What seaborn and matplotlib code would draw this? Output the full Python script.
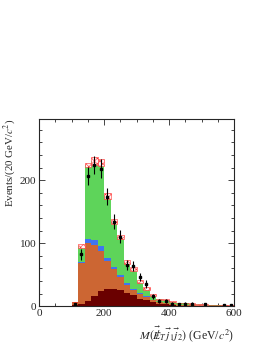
import numpy as np
import pandas as pd
import matplotlib
matplotlib.use("Agg")
import matplotlib.pyplot as plt
from matplotlib.ticker import MultipleLocator
import seaborn as sns

# -------------------------------
# Data (20 GeV bins, 0-600)
# -------------------------------

bin_lo = np.arange(0, 600, 20)

maroon = [0.8, 0.8, 0.8, 0.8, 0.8, 1.5, 3, 8, 16, 24, 28, 28, 25, 21, 17,
          12, 10, 7, 4, 3, 2, 1, 1, 0.8, 0.6, 0.5, 0.4, 0.3, 0.3, 0.3]
orange = [0, 0, 0, 0, 0, 4.5, 65, 92, 81, 64, 44, 31, 21, 13, 9,
          8, 5, 3, 3, 2, 1, 1, 1, 0.7, 0.6, 0.5, 0.4, 0.3, 0.3, 0.2]
blue = [0, 0, 0, 0, 0, 0, 2, 7, 8, 7, 5, 3, 3, 3, 2,
        1, 1, 0.5, 0, 0, 0, 0, 0, 0, 0, 0, 0, 0, 0, 0]
total = [0.8, 0.8, 0.8, 0.8, 0.8, 6.5, 96, 224, 230, 228, 175, 134, 110, 70, 59,
         39, 28, 18, 11, 10, 7, 5, 5, 4, 3, 2.5, 2, 1.5, 1.2, 1]
band_err = [0, 0, 0, 0, 0, 0.5, 3, 3, 6, 5.5, 5, 4, 3.5, 3, 2.5,
            2, 2, 1.5, 1, 1, 0.8, 0.6, 0.6, 0.5, 0.4, 0.3, 0.3, 0.2, 0.2, 0.2]

data_x = [110, 130, 150, 170, 190, 210, 230, 250, 270, 290, 310, 330,
          350, 370, 390, 410, 430, 450, 470, 510, 570, 590]
data_y = [3, 82, 207, 224, 218, 174, 134, 110, 65, 63, 46, 35,
          16, 8, 8, 4, 3, 4, 4, 3, 2, 2]

green = [t - m - o - b for t, m, o, b in zip(total, maroon, orange, blue)]

comp = {"green": green, "blue": blue, "orange": orange, "maroon": maroon}
rows = []
for name, vals in comp.items():
    for lo, v in zip(bin_lo, vals):
        rows.append({"x": float(lo + 10), "w": float(v), "comp": name})
df = pd.DataFrame(rows)

palette = {"green": "#5ed45a", "blue": "#3f74f0",
           "orange": "#cc6633", "maroon": "#6a0000"}

# -------------------------------
# Plot
# -------------------------------

sns.set_style("ticks")
plt.rcParams["font.family"] = ["Liberation Serif", "DejaVu Serif"]
plt.rcParams["mathtext.fontset"] = "stix"
plt.rcParams["hatch.linewidth"] = 0.4

fig = plt.figure(figsize=(2.66, 3.44), dpi=100)
ax = fig.add_axes([0.147, 0.110, 0.733, 0.544])

sns.histplot(data=df, x="x", weights="w", hue="comp",
             hue_order=["green", "blue", "orange", "maroon"],
             palette=palette, binwidth=20, binrange=(0, 600),
             multiple="stack", element="bars", linewidth=0, alpha=1,
             legend=False, ax=ax)

# uncertainty band on the total
tot = np.array(total)
err = np.array(band_err)
ax.bar(bin_lo, 2 * err, bottom=tot - err, width=20, align="edge",
       facecolor="#fff4f4", edgecolor="#ff3030", hatch="xxxxxx", linewidth=0.4)

# data points
dy = np.sqrt(np.array(data_y))
ax.errorbar(data_x, data_y, yerr=dy, fmt="s", color="black",
            markersize=1.8, elinewidth=0.8, capsize=0)

ax.set_xlim(0, 600)
ax.set_ylim(0, 297)
ax.xaxis.set_major_locator(MultipleLocator(200))
ax.xaxis.set_minor_locator(MultipleLocator(50))
ax.yaxis.set_major_locator(MultipleLocator(100))
ax.yaxis.set_minor_locator(MultipleLocator(20))
ax.tick_params(which="both", direction="in", top=True, right=True,
               labelsize=8, width=0.6, pad=2)
ax.tick_params(which="major", length=4)
ax.tick_params(which="minor", length=2)
for s in ax.spines.values():
    s.set_linewidth(0.8)

ax.set_ylabel(r"Events/(20 GeV/$c^2$)", fontsize=7.8, loc="top")
ax.yaxis.set_label_coords(-0.11, 1.0)
ax.set_xlabel(r"$M(\vec{E\!\!\!/}_T\,\vec{j}_1\vec{j}_2)$ (GeV/$c^2$)",
              fontsize=8.5, loc="right")
ax.xaxis.set_label_coords(1.0, -0.10)

fig.savefig("out.png", dpi=100)
